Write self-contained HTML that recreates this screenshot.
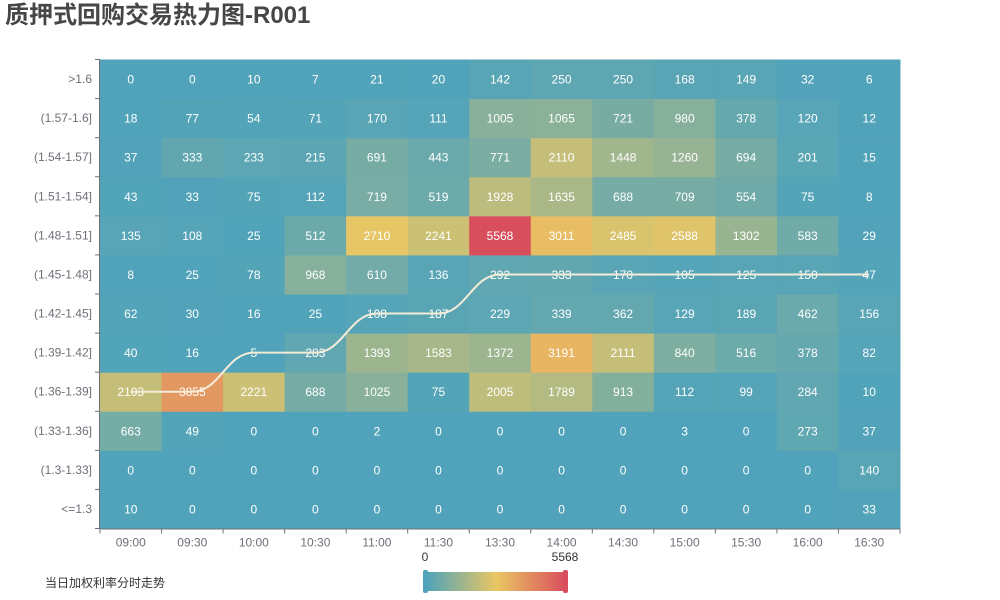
<!DOCTYPE html>
<html><head><meta charset="utf-8"><style>
body{margin:0;background:#fff;font-family:"Liberation Sans","Noto Sans CJK SC",sans-serif;}
#c{position:relative;width:1000px;height:600px;overflow:hidden}
h1{position:absolute;left:5px;top:1px;margin:0;font-size:24px;font-weight:bold;color:#464646;line-height:30px}
</style></head><body>
<div id="c">
<h1>质押式回购交易热力图-R001</h1>
<svg id="s" width="1000" height="600" style="position:absolute;left:0;top:0;font-family:'Liberation Sans','Noto Sans CJK SC',sans-serif"></svg>
</div>
<script>
const times=["09:00","09:30","10:00","10:30","11:00","11:30","13:30","14:00","14:30","15:00","15:30","16:00","16:30"];
const rates=["<=1.3","(1.3-1.33]","(1.33-1.36]","(1.36-1.39]","(1.39-1.42]","(1.42-1.45]","(1.45-1.48]","(1.48-1.51]","(1.51-1.54]","(1.54-1.57]","(1.57-1.6]",">1.6"];
// rows bottom(<=1.3) to top(>1.6)
const r0=[10,0,0,0,0,0,0,0,0,0,0,0,33];
const r1=[0,0,0,0,0,0,0,0,0,0,0,0,140];
const r2=[663,49,0,0,2,0,0,0,0,3,0,273,37];
const r3=[2103,3855,2221,688,1025,75,2005,1789,913,112,99,284,10];
const r4=[40,16,5,283,1393,1583,1372,3191,2111,840,516,378,82];
const r5=[62,30,16,25,108,187,229,339,362,129,189,462,156];
const r6=[8,25,78,968,610,136,292,333,170,105,125,150,47];
const r7=[135,108,25,512,2710,2241,5568,3011,2485,2588,1302,583,29];
const r8=[43,33,75,112,719,519,1928,1635,688,709,554,75,8];
const r9=[37,333,233,215,691,443,771,2110,1448,1260,694,201,15];
const r10=[18,77,54,71,170,111,1005,1065,721,980,378,120,12];
const r11=[0,0,10,7,21,20,142,250,250,168,149,32,6];
const grid=[r0,r1,r2,r3,r4,r5,r6,r7,r8,r9,r10,r11];
// weighted rate trend: row index of rate category per time
const trend=[3,3,4,4,5,5,6,6,6,6,6,6,6];
const vmin=0,vmax=5568;

const NS="http://www.w3.org/2000/svg",svg=document.getElementById('s');
const L=100,R=900,T=59.5,B=528.5;
const cw=(R-L)/times.length,ch=(B-T)/rates.length;
const xc=i=>L+cw*(i+0.5), yc=j=>B-ch*(j+0.5);
function mk(t,a,p){const e=document.createElementNS(NS,t);for(const k in a)e.setAttribute(k,a[k]);(p||svg).appendChild(e);return e;}
const stops=[[0x50,0xa3,0xba],[0xea,0xc7,0x63],[0xd9,0x4e,0x5d]];
function col(v){let t=(v-vmin)/(vmax-vmin)*2;let i=Math.min(1,Math.floor(t));let f=t-i;const a=stops[i],b=stops[i+1];return `rgb(${a.map((x,k)=>Math.round(x+(b[k]-x)*f)).join(',')})`;}
grid.forEach((row,j)=>row.forEach((v,i)=>{
 const r=mk('rect',{x:L+cw*i,y:B-ch*(j+1),width:cw+0.5,height:ch+0.5,fill:col(v)});
 
 
}));
grid.forEach((row,j)=>row.forEach((v,i)=>{
 const t=mk('text',{x:xc(i),y:yc(j)+4.5,'text-anchor':'middle','font-size':12,fill:'#fff'});t.textContent=v;
 
 
}));
// axes
const ax=mk('line',{x1:L,y1:B+0.5,x2:R,y2:B+0.5,stroke:'#6e7079'});


for(let i=0;i<=times.length;i++)mk('line',{x1:L+cw*i,y1:B,x2:L+cw*i,y2:B+5,stroke:'#6e7079'});
times.forEach((t,i)=>{const e=mk('text',{x:xc(i),y:B+18,'text-anchor':'middle','font-size':12,fill:'#6e7079'});e.textContent=t;
 
 });
const ay=mk('line',{x1:L-0.5,y1:T,x2:L-0.5,y2:B,stroke:'#6e7079'});


for(let j=0;j<=rates.length;j++)mk('line',{x1:L-5,y1:B-ch*j,x2:L,y2:B-ch*j,stroke:'#6e7079'});
rates.forEach((t,j)=>{const e=mk('text',{x:L-8,y:yc(j)+4,'text-anchor':'end','font-size':12,fill:'#6e7079'});e.textContent=t;
 
 });
// trend line
let d=`M${xc(0)},${yc(trend[0])}`;
for(let i=1;i<trend.length;i++){const x0=xc(i-1),x1=xc(i),y0=yc(trend[i-1]),y1=yc(trend[i]);const m=(x1-x0)*0.45;d+=` C${x0+m},${y0} ${x1-m},${y1} ${x1},${y1}`;}
const p=mk('path',{d:d,fill:'none',stroke:'#f5ecd8',"stroke-width":2});


// legend
const lg=mk('text',{x:45,y:587,'font-size':12,fill:'#333'});lg.textContent='当日加权利率分时走势';


// visual map
const defs=mk('defs',{});const g=mk('linearGradient',{id:'vg',x1:0,x2:1,y1:0,y2:0},defs);
stops.forEach((c,k)=>mk('stop',{offset:k/2,'stop-color':`rgb(${c.join(',')})`},g));
const vb=mk('rect',{x:427,y:572,width:139,height:19,fill:'url(#vg)'});


const h1=mk('rect',{x:423,y:570,width:5,height:23,rx:2,fill:'#50a3ba'});


const h2=mk('rect',{x:563,y:570,width:5,height:23,rx:2,fill:'#d94e5d'});


const t0=mk('text',{x:425,y:561,'text-anchor':'middle','font-size':12,fill:'#333'});t0.textContent=vmin;


const t1=mk('text',{x:565,y:561,'text-anchor':'middle','font-size':12,fill:'#333'});t1.textContent=vmax;


</script>
</body></html>
